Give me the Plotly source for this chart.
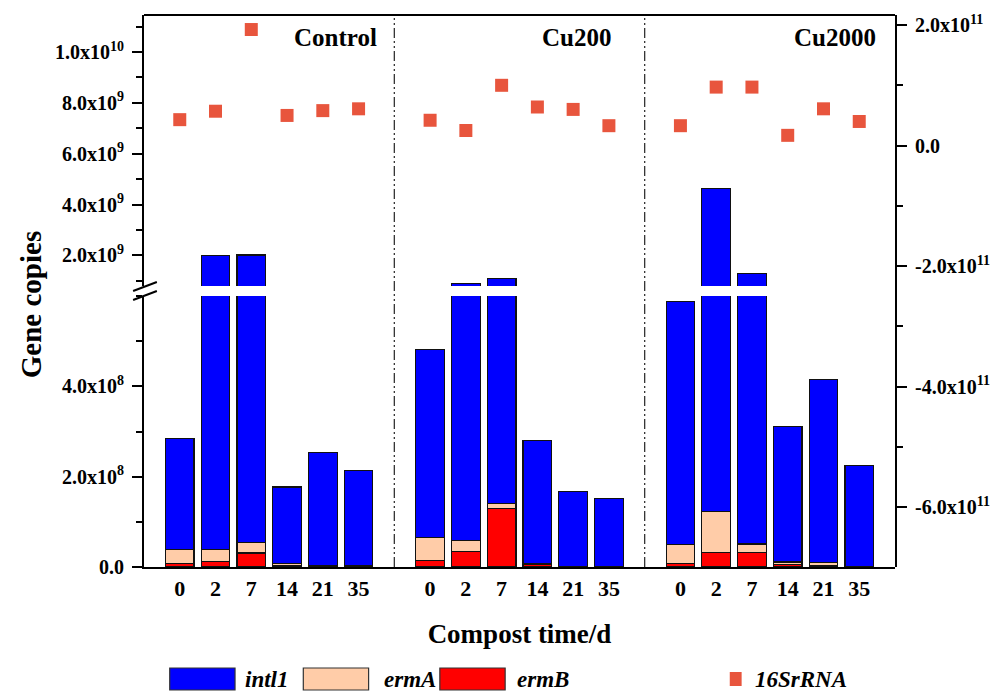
import plotly.graph_objects as go

# ---------------- data ----------------
groups = ["Control", "Cu200", "Cu2000"]
days = ["0", "2", "7", "14", "21", "35"]

# gene copies, order: Control d0..d35, Cu200 d0..d35, Cu2000 d0..d35
intl1 = [2.47e8, 1.962e9, 1.965e9, 1.70e8, 2.50e8, 2.11e8,
         4.15e8, 8.52e8, 9.40e8, 2.72e8, 1.65e8, 1.50e8,
         5.39e8, 4.517e9, 1.249e9, 3.00e8, 4.05e8, 2.22e8]
ermA = [0.31e8, 0.26e8, 0.24e8, 0.04e8, 0.02e8, 0.02e8,
        0.51e8, 0.23e8, 0.11e8, 0.02e8, 0.01e8, 0.01e8,
        0.42e8, 0.91e8, 0.19e8, 0.06e8, 0.07e8, 0.01e8]
ermB = [0.07e8, 0.12e8, 0.31e8, 0.03e8, 0.01e8, 0.01e8,
        0.15e8, 0.35e8, 1.29e8, 0.06e8, 0.01e8, 0.01e8,
        0.07e8, 0.32e8, 0.32e8, 0.05e8, 0.03e8, 0.01e8]
rrna16s = [0.43e11, 0.57e11, 1.925e11, 0.50e11, 0.58e11, 0.61e11,
           0.42e11, 0.25e11, 1.00e11, 0.64e11, 0.60e11, 0.33e11,
           0.33e11, 0.97e11, 0.97e11, 0.17e11, 0.61e11, 0.40e11]

lower_ticks = [0, 2e8, 4e8]
lower_ticktext = ["0.0", "2.0x10<sup>8</sup>", "4.0x10<sup>8</sup>"]
upper_ticks = [2e9, 4e9, 6e9, 8e9, 1e10]
upper_ticktext = ["2.0x10<sup>9</sup>", "4.0x10<sup>9</sup>", "6.0x10<sup>9</sup>",
                  "8.0x10<sup>9</sup>", "1.0x10<sup>10</sup>"]
right_ticks = [-6e11, -4e11, -2e11, 0, 2e11]
right_ticktext = ["-6.0x10<sup>11</sup>", "-4.0x10<sup>11</sup>", "-2.0x10<sup>11</sup>",
                  "0.0", "2.0x10<sup>11</sup>"]

# ---------------- layout helpers ----------------
W, H = 1002, 693
L, R, T, B = 144, 99, 15, 126
PW, PH = W - L - R, H - T - B
FONT = "Liberation Serif"


def px_x(px):
    return (px - L) / PW


def px_y(py):
    return (H - B - py) / PH


# category positions: groups separated by one empty slot
xpos = [g * 7 + d for g in range(len(groups)) for d in range(len(days))]
xticktext = days * len(groups)

C_BLUE = "#0000FF"
C_PEACH = "#FFCCA8"
C_RED = "#FF0000"
C_16S = "#E8553D"

fig = go.Figure()
for yax in ["y", "y2"]:
    for name, vals, col in [("ermB", ermB, C_RED), ("ermA", ermA, C_PEACH), ("intl1", intl1, C_BLUE)]:
        fig.add_trace(go.Bar(x=xpos, y=vals, name=name, yaxis=yax, width=0.8,
                             marker=dict(color=col, line=dict(color="#111111", width=1.2)),
                             showlegend=False))
fig.add_trace(go.Scatter(x=xpos, y=rrna16s, yaxis="y3", mode="markers", name="16SrRNA",
                         marker=dict(symbol="square", size=13, color=C_16S),
                         showlegend=False))

tickfont = dict(family=FONT, size=20, color="black", weight="bold")
axcommon = dict(showline=True, linecolor="black", linewidth=2, showgrid=False, zeroline=False,
                ticks="outside", ticklen=10, tickwidth=2, tickcolor="black", tickfont=tickfont,
                ticklabelstandoff=4)

lower_dom_top = px_y(296)
upper_dom_bot = px_y(286)

fig.update_layout(
    width=W, height=H,
    margin=dict(l=L, r=R, t=T, b=B),
    paper_bgcolor="white", plot_bgcolor="rgba(0,0,0,0)",
    barmode="stack", showlegend=False,
    font=dict(family=FONT, color="black"),
    xaxis=dict(range=[-1, 20], domain=[0, 1], anchor="y", showline=True, linecolor="black",
               linewidth=2, showgrid=False, zeroline=False, ticks="",
               tickmode="array", tickvals=xpos, ticktext=xticktext,
               tickfont=dict(family=FONT, size=22, color="black", weight="bold"),
               ticklabelstandoff=1,
               title=dict(text="Compost time/d", standoff=24,
                          font=dict(family=FONT, size=27, color="black", weight="bold"))),
    yaxis=dict(domain=[0, lower_dom_top], range=[0, 6e8], anchor="x",
               tickmode="array", tickvals=lower_ticks, ticktext=lower_ticktext,
               minor=dict(tickmode="array", tickvals=[1e8, 3e8, 5e8, 6e8], ticks="outside",
                          ticklen=6, tickwidth=2, tickcolor="black"),
               **axcommon),
    yaxis2=dict(domain=[upper_dom_bot, 1], range=[8e8, 1.1454e10], anchor="x",
                tickmode="array", tickvals=upper_ticks, ticktext=upper_ticktext,
                minor=dict(tickmode="array", tickvals=[1e9, 3e9, 5e9, 7e9, 9e9, 1.1e10],
                           ticks="outside", ticklen=6, tickwidth=2, tickcolor="black"),
                **axcommon),
    yaxis3=dict(domain=[0, 1], range=[-6.99e11, 2.166e11], anchor="x", side="right",
                tickmode="array", tickvals=right_ticks, ticktext=right_ticktext,
                minor=dict(tickmode="array", tickvals=[-5e11, -3e11, -1e11, 1e11],
                           ticks="outside", ticklen=6, tickwidth=2, tickcolor="black"),
                **axcommon),
)

shapes = []
# top frame line
shapes.append(dict(type="line", xref="paper", yref="paper", x0=0, x1=1, y0=1, y1=1,
                   line=dict(color="black", width=2)))
# group dividers
for xd in [6, 13]:
    shapes.append(dict(type="line", xref="x", yref="paper", x0=xd, x1=xd, y0=0, y1=1,
                       line=dict(color="#333333", width=1.3, dash="10px,3px,2px,3px,2px,3px")))
# axis break marks
for (ya, yb) in [(291, 282), (300, 291)]:
    shapes.append(dict(type="line", xref="paper", yref="paper",
                       x0=px_x(133), x1=px_x(157), y0=px_y(ya), y1=px_y(yb),
                       line=dict(color="black", width=2)))
# legend boxes
leg_y0, leg_y1 = px_y(668), px_y(690)
for (xa, xb, col) in [(170, 236, C_BLUE), (305, 371, C_PEACH), (443, 509, C_RED)]:
    shapes.append(dict(type="rect", xref="paper", yref="paper",
                       x0=px_x(xa), x1=px_x(xb), y0=leg_y0, y1=leg_y1,
                       fillcolor=col, line=dict(color="#333333", width=1.2)))
shapes.append(dict(type="rect", xref="paper", yref="paper",
                   x0=px_x(736), x1=px_x(748), y0=px_y(672), y1=px_y(686),
                   fillcolor=C_16S, line=dict(width=0)))
fig.update_layout(shapes=shapes)

ann = []
# panel labels
for txt, xr in [("Control", 382), ("Cu200", 618), ("Cu2000", 886)]:
    ann.append(dict(text=txt, xref="paper", yref="paper", x=px_x(xr), y=px_y(38),
                    xanchor="right", yanchor="middle", showarrow=False,
                    font=dict(family=FONT, size=25, color="black", weight="bold")))
# y title
ann.append(dict(text="Gene copies", xref="paper", yref="paper", x=px_x(30), y=px_y(305),
                xanchor="center", yanchor="middle", textangle=-90, showarrow=False,
                font=dict(family=FONT, size=29, color="black", weight="bold")))
# legend texts
for txt, xl in [("intl1", 244), ("ermA", 385), ("ermB", 519), ("16SrRNA", 759)]:
    ann.append(dict(text=txt, xref="paper", yref="paper", x=px_x(xl), y=px_y(679),
                    xanchor="left", yanchor="middle", showarrow=False,
                    font=dict(family=FONT, size=23, color="black", weight="bold", style="italic")))
fig.update_layout(annotations=ann)

fig.write_html("out.html", config={"displayModeBar": False},
               post_script="document.body.style.margin='0';document.body.style.overflow='hidden';")
